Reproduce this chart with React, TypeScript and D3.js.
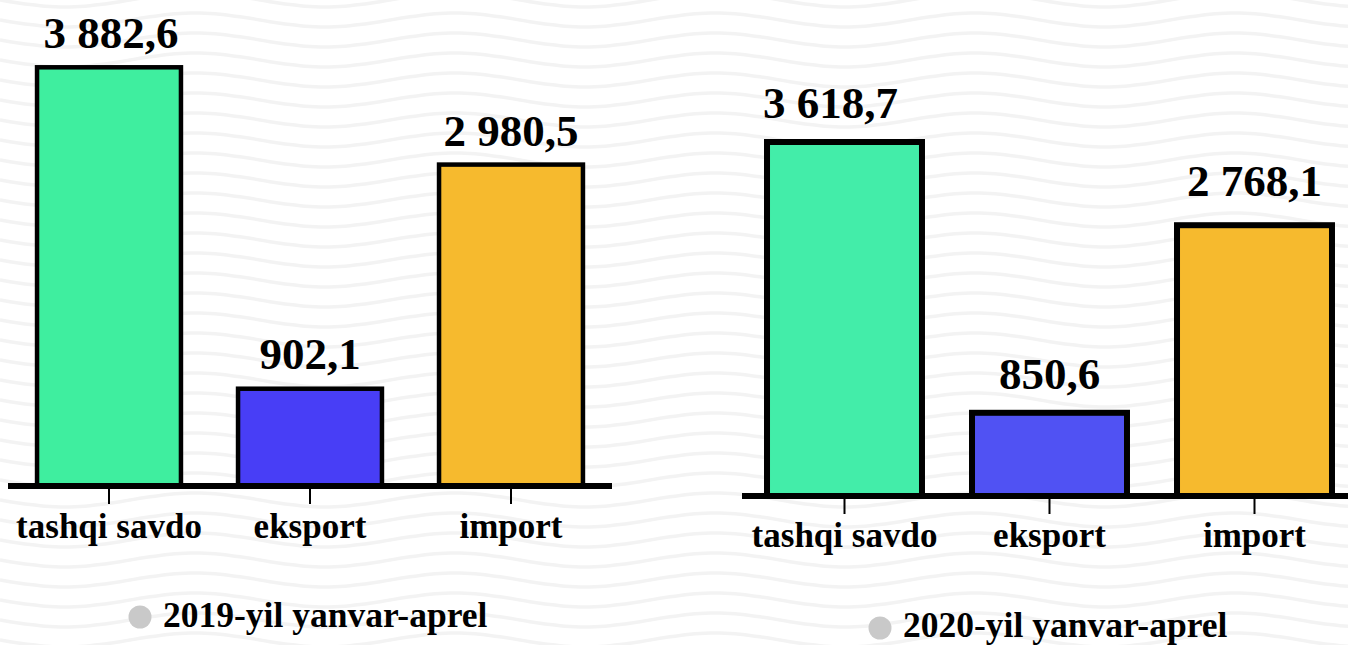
import React from "react";
import * as d3 from "d3";

const categories = ["tashqi savdo", "eksport", "import"];
const values2019 = [3882.6, 902.1, 2980.5];
const values2020 = [3618.7, 850.6, 2768.1];
const labels2019 = ["3 882,6", "902,1", "2 980,5"];
const labels2020 = ["3 618,7", "850,6", "2 768,1"];
const legend2019 = "2019-yil yanvar-aprel";
const legend2020 = "2020-yil yanvar-aprel";

const colors2019 = ["#3fee9f", "#483ef6", "#f6ba2e"];
const colors2020 = ["#43eda9", "#5052f3", "#f6ba2e"];

const W = 1348;
const H = 645;
const FONT = "'Liberation Serif', 'Times New Roman', serif";

type PanelProps = {
  values: number[];
  labels: string[];
  colors: string[];
  legend: string;
  xRange: [number, number];
  paddingInner: number;
  paddingOuter: number;
  axisX: [number, number];
  baseY: number;
  topY: number;
  stroke: number;
  axisW: number;
  labelGap: number[];
  labelDx: number[];
  catBaseline: number;
  legendCx: number;
  legendCy: number;
  legendTextX: number;
  legendBaseline: number;
};

function Panel(p: PanelProps) {
  const x = d3
    .scaleBand<string>()
    .domain(categories)
    .range(p.xRange)
    .paddingInner(p.paddingInner)
    .paddingOuter(p.paddingOuter);
  const y = d3
    .scaleLinear()
    .domain([0, d3.max(p.values) as number])
    .range([p.baseY, p.topY]);
  return (
    <g>
      {categories.map((c, i) => (
        <rect
          key={c}
          x={x(c)}
          y={y(p.values[i])}
          width={x.bandwidth()}
          height={p.baseY - y(p.values[i])}
          fill={p.colors[i]}
          stroke="#000"
          strokeWidth={p.stroke}
        />
      ))}
      <line
        x1={p.axisX[0]}
        x2={p.axisX[1]}
        y1={p.baseY}
        y2={p.baseY}
        stroke="#000"
        strokeWidth={p.axisW}
      />
      {categories.map((c) => {
        const cx = (x(c) as number) + x.bandwidth() / 2;
        return (
          <g key={c}>
            <line
              x1={cx}
              x2={cx}
              y1={p.baseY + p.axisW / 2}
              y2={p.baseY + p.axisW / 2 + 15}
              stroke="#000"
              strokeWidth={2}
            />
            <text
              x={cx}
              y={p.catBaseline}
              textAnchor="middle"
              fontFamily={FONT}
              fontWeight="bold"
              fontSize={35}
              fill="#000"
            >
              {c}
            </text>
          </g>
        );
      })}
      {categories.map((c, i) => {
        const cx = (x(c) as number) + x.bandwidth() / 2 + p.labelDx[i];
        return (
          <text
            key={c}
            x={cx}
            y={y(p.values[i]) - p.stroke / 2 - p.labelGap[i]}
            textAnchor="middle"
            fontFamily={FONT}
            fontWeight="bold"
            fontSize={45}
            fill="#000"
          >
            {p.labels[i]}
          </text>
        );
      })}
      <circle cx={p.legendCx} cy={p.legendCy} r={11.5} fill="#c9c9c9" />
      <text
        x={p.legendTextX}
        y={p.legendBaseline}
        fontFamily={FONT}
        fontWeight="bold"
        fontSize={35.5}
        fill="#000"
      >
        {p.legend}
      </text>
    </g>
  );
}

function Background() {
  const rows = d3.range(-20, H + 40, 20);
  const xs = d3.range(0, W + 20, 10);
  const line = d3
    .line<number>()
    .x((d) => d)
    .y((d) => 7 * Math.sin((d / 260) * 2 * Math.PI))
    .curve(d3.curveBasis);
  const path = line(xs) as string;
  return (
    <g>
      <rect x={0} y={0} width={W} height={H} fill="#ffffff" />
      {rows.map((r) => (
        <path
          key={r}
          d={path}
          transform={`translate(0,${r})`}
          fill="none"
          stroke="#f3f3f3"
          strokeWidth={3.5}
        />
      ))}
    </g>
  );
}

export default function App() {
  return (
    <svg
      width={W}
      height={H}
      style={{ position: "absolute", left: 0, top: 0, display: "block" }}
    >
      <Background />
      <Panel
        values={values2019}
        labels={labels2019}
        colors={colors2019}
        legend={legend2019}
        xRange={[8, 612]}
        paddingInner={0.284}
        paddingOuter={0.1445}
        axisX={[8, 612]}
        baseY={486}
        topY={67.3}
        stroke={4.5}
        axisW={6}
        labelGap={[17, 17, 16]}
        labelDx={[2, 0, 0]}
        catBaseline={538}
        legendCx={140}
        legendCy={617}
        legendTextX={163}
        legendBaseline={627}
      />
      <Panel
        values={values2020}
        labels={labels2020}
        colors={colors2020}
        legend={legend2020}
        xRange={[742, 1357]}
        paddingInner={0.244}
        paddingOuter={0.122}
        axisX={[742, 1348]}
        baseY={496}
        topY={142}
        stroke={6}
        axisW={6}
        labelGap={[21, 21, 26]}
        labelDx={[-14, 0, 0]}
        catBaseline={547}
        legendCx={880}
        legendCy={628}
        legendTextX={903}
        legendBaseline={637}
      />
    </svg>
  );
}
